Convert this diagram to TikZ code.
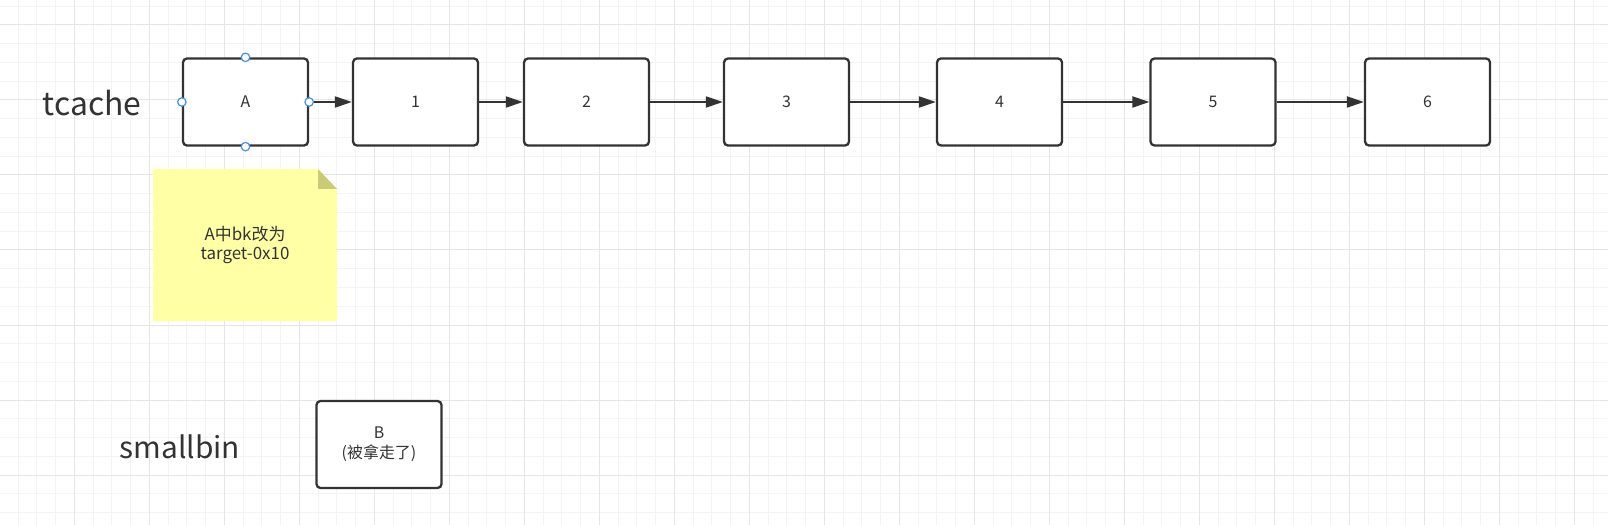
\documentclass[tikz,border=0pt]{standalone}
\usepackage{fontspec}
\setmainfont{Noto Sans CJK SC}
\usetikzlibrary{arrows.meta,positioning}

\definecolor{ink}{HTML}{333333}
\definecolor{gridminor}{HTML}{F4F4F4}
\definecolor{gridmajor}{HTML}{E6E6E6}
\definecolor{handleblue}{HTML}{4A90E2}
\definecolor{notefill}{HTML}{FFFFA6}
\definecolor{foldfill}{HTML}{CACA78}

\begin{document}
\begin{tikzpicture}[x=1bp, y=-1bp,
    chunk/.style={rectangle, draw=ink, line width=2.3bp, rounded corners=4bp, fill=white, minimum width=125bp, minimum height=87bp, inner sep=0pt, text=ink, font=\fontsize{16}{20}\selectfont, align=center},
    arrow/.style={-{Triangle[length=17bp,width=11bp]}, draw=ink, line width=2bp},
    handle/.style={circle, draw=handleblue, fill=white, line width=1.2bp, minimum size=8.5bp, inner sep=0pt},
    binlabel/.style={text=ink, font=\fontsize{32}{40}\selectfont},
    note/.style={minimum width=184bp, minimum height=152bp, inner sep=0pt, text=ink, font=\fontsize{17}{20}\selectfont, align=center,
        path picture={
            \fill[notefill] (path picture bounding box.south west) |- ([xshift=-19bp]path picture bounding box.north east)
                -- ([yshift=-20bp]path picture bounding box.north east) -- (path picture bounding box.south east) -- cycle;
            \fill[foldfill] ([xshift=-19bp]path picture bounding box.north east) -- ([yshift=-20bp]path picture bounding box.north east)
                -- ([xshift=-19bp,yshift=-20bp]path picture bounding box.north east) -- cycle;
        }}
]

% background and grid
\useasboundingbox[fill=white] (0,0) rectangle (1608,525);
\foreach \i in {0,...,85} \draw[gridminor, line width=1bp] ({18.05+18.75*\i},0) -- ++(0,525);
\foreach \i in {0,...,27} \draw[gridminor, line width=1bp] (0,{6.25+18.75*\i}) -- ++(1608,0);
\foreach \i in {0,...,20} \draw[gridmajor, line width=1bp] ({74.3+75*\i},0) -- ++(0,525);
\foreach \i in {0,...,6} \draw[gridmajor, line width=1bp] (0,{25+75*\i}) -- ++(1608,0);

% tcache list
\node[binlabel] (tc) at (92,103) {tcache};
\node[chunk] (a) at (245.5,102) {A};
\node[chunk, right=42.7bp of a] (c1) {1};
\node[chunk, right=43.7bp of c1] (c2) {2};
\node[chunk, right=72.7bp of c2] (c3) {3};
\node[chunk, right=85.7bp of c3] (c4) {4};
\node[chunk, right=86.2bp of c4] (c5) {5};
\node[chunk, right=87.2bp of c5] (c6) {6};

\draw[arrow] (a) -- (c1);
\draw[arrow] (c1) -- (c2);
\draw[arrow] (c2) -- (c3);
\draw[arrow] (c3) -- (c4);
\draw[arrow] (c4) -- (c5);
\draw[arrow] (c5) -- (c6);

\foreach \side in {north,south,east,west} \node[handle] at (a.\side) {};

\node[note] (nt) at (245,245) {A中bk改为\\target-0x10};

% smallbin
\node[binlabel, font=\fontsize{30}{40}\selectfont] (sb) at (180,447) {smallbin};
\node[chunk] (b) at (379,444.5) {B\\(被拿走了)};

\end{tikzpicture}
\end{document}
